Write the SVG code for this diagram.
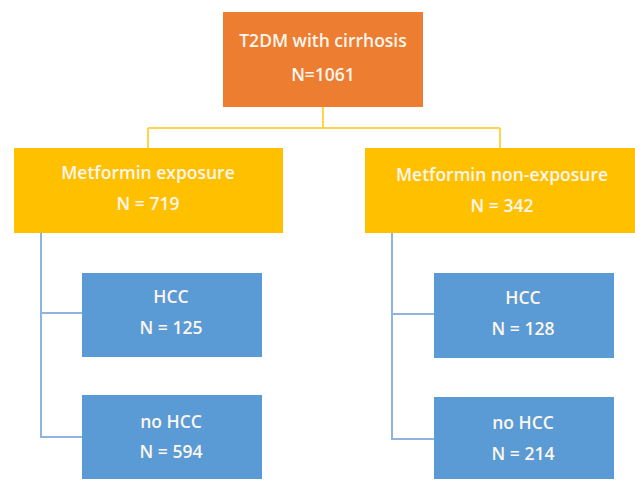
<svg xmlns="http://www.w3.org/2000/svg" width="635" height="481" viewBox="0 0 635 481">
<style>
text{font-family:"Open Sans","Liberation Sans",sans-serif;fill:#fdf6ee;text-anchor:middle;font-size:17.5px;font-weight:600}
.o{fill:#ED7D31}.y{fill:#FFC000}.b{fill:#5B9BD5}
.cy{stroke:#FFD34D;stroke-width:2;fill:none}
.cb{stroke:#8FB4E0;stroke-width:2;fill:none}
</style>
<rect width="635" height="481" fill="#fff"/>
<g id="connectors">
<path class="cy" d="M323 107V128M148 128H500M148 128V148M500 128V148"/>
<path class="cb" d="M41 233V437H82M41 313H82"/>
<path class="cb" d="M392 233V439H434M392 314H434"/>
</g>
<g id="root"><rect class="o" x="223" y="12" width="200" height="95"/><text x="323" y="47" font-size="23.5">T2DM with cirrhosis</text><text x="323" y="81" font-size="23.5">N=1061</text></g>
<g id="exposure"><rect class="y" x="14" y="148" width="269" height="85"/><text x="148" y="179">Metformin exposure</text><text x="148" y="210">N = 719</text></g>
<g id="nonexposure"><rect class="y" x="365" y="148" width="270" height="85"/><text x="502" y="181">Metformin non-exposure</text><text x="502" y="212">N = 342</text></g>
<g id="hcc1"><rect class="b" x="82" y="273" width="180" height="84"/><text x="171" y="303">HCC</text><text x="171" y="334">N = 125</text></g>
<g id="nohcc1"><rect class="b" x="82" y="395" width="180" height="84"/><text x="171" y="428">no HCC</text><text x="171" y="458">N = 594</text></g>
<g id="hcc2"><rect class="b" x="434" y="273" width="180" height="85"/><text x="523" y="304">HCC</text><text x="523" y="335">N = 128</text></g>
<g id="nohcc2"><rect class="b" x="434" y="397" width="180" height="82"/><text x="523" y="429">no HCC</text><text x="523" y="460">N = 214</text></g>
</svg>
